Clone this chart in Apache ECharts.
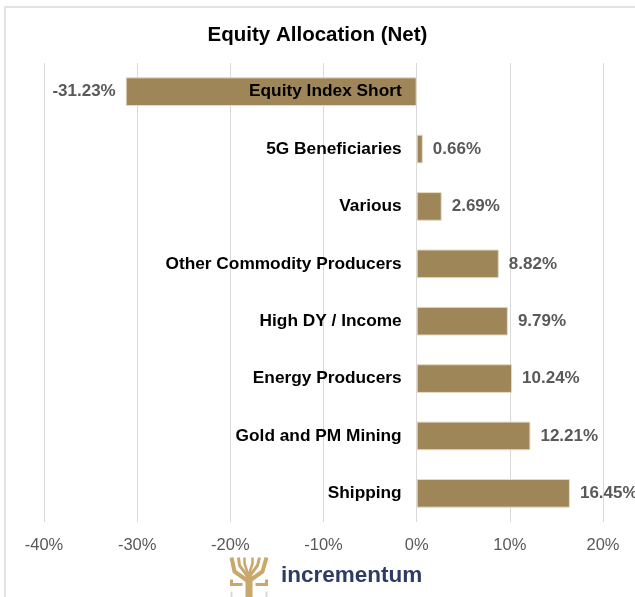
<!DOCTYPE html>
<html>
<head>
<meta charset="utf-8">
<script src="https://cdn.jsdelivr.net/npm/echarts@6/dist/echarts.min.js"></script>
<style>html,body{margin:0;padding:0;background:#fff}#c{width:635px;height:597px}</style>
</head>
<body>
<div id="c"></div>
<script>
var categories = ['Equity Index Short','5G Beneficiaries','Various','Other Commodity Producers','High DY / Income','Energy Producers','Gold and PM Mining','Shipping'];
var values = [-31.23, 0.66, 2.69, 8.82, 9.79, 10.24, 12.21, 16.45];
var xTicks = [-40, -30, -20, -10, 0, 10, 20];

var chart = echarts.init(document.getElementById('c'));
var font = '"Liberation Sans", Arial, sans-serif';
chart.setOption({
  animation: false,
  title: {
    text: 'Equity Allocation (Net)', left: 'center', top: 20,
    textStyle: {fontFamily: font, fontSize: 20.5, fontWeight: 'bold', color: '#000'}
  },
  grid: {left: 44, right: 32, top: 63, bottom: 75, containLabel: false, outerBoundsMode: 'none'},
  xAxis: {
    type: 'value', min: xTicks[0], max: xTicks[xTicks.length - 1], interval: 10,
    axisLine: {show: false}, axisTick: {show: false},
    splitLine: {lineStyle: {color: '#d9d9d9', width: 1}},
    axisLabel: {formatter: '{value}%', fontFamily: font, fontSize: 16.5, color: '#595959', margin: 15}
  },
  yAxis: {
    type: 'category', data: categories, inverse: true,
    axisLine: {show: false}, axisTick: {show: false}, axisLabel: {show: false}
  },
  series: [{
    type: 'bar', barCategoryGap: '50%',
    itemStyle: {color: '#9f8659', borderColor: '#e6dcc6', borderWidth: 1},
    label: {show: true, position: 'right', distance: 10, formatter: function(p){return p.value.toFixed(2) + '%';},
      fontFamily: font, fontSize: 17, fontWeight: 'bold', color: '#595959'},
    data: values.map(function(v){return v < 0 ? {value: v, label: {position: 'left', distance: 10}} : v;})
  }, {
    type: 'bar', barGap: '-100%', barCategoryGap: '50%', silent: true, z: 5,
    itemStyle: {color: 'rgba(0,0,0,0)', borderWidth: 0},
    label: {show: true, position: 'left', distance: 15, formatter: '{b}',
      fontFamily: font, fontSize: 17.3, fontWeight: 'bold', color: '#000'},
    data: categories.map(function(){return 0;})
  }],
  graphic: [
    {type: 'rect', shape: {x: 5, y: 7, width: 650, height: 620}, style: {fill: 'none', stroke: '#e3e3e3', lineWidth: 2}, silent: true},
    {type: 'group', left: 229, top: 555, children: [
      {type: 'rect', shape: {x: 15, y: 18, width: 7, height: 26}, style: {fill: '#c9a96b'}},
      {type: 'polyline', shape: {points: [[18,24],[4,14],[1,0]]}, style: {stroke: '#c9a96b', lineWidth: 4, fill: 'none'}},
      {type: 'polyline', shape: {points: [[18,24],[32,14],[36,0]]}, style: {stroke: '#c9a96b', lineWidth: 4, fill: 'none'}},
      {type: 'polyline', shape: {points: [[18,20],[9,8],[8,0]]}, style: {stroke: '#c9a96b', lineWidth: 3, fill: 'none'}},
      {type: 'polyline', shape: {points: [[18,20],[27,8],[29,0]]}, style: {stroke: '#c9a96b', lineWidth: 3, fill: 'none'}},
      {type: 'polyline', shape: {points: [[18,18],[14,6],[14,0]]}, style: {stroke: '#c9a96b', lineWidth: 2.5, fill: 'none'}},
      {type: 'polyline', shape: {points: [[18,18],[22,6],[22,0]]}, style: {stroke: '#c9a96b', lineWidth: 2.5, fill: 'none'}},
      {type: 'polyline', shape: {points: [[1,22],[1,27],[12,27]]}, style: {stroke: '#c9a96b', lineWidth: 3, fill: 'none'}},
      {type: 'polyline', shape: {points: [[25,27],[36,27],[36,22]]}, style: {stroke: '#c9a96b', lineWidth: 3, fill: 'none'}},
      {type: 'polyline', shape: {points: [[1,34],[1,42],[10,42]]}, style: {stroke: '#d9d9d9', lineWidth: 2, fill: 'none'}},
      {type: 'polyline', shape: {points: [[27,42],[36,42],[36,34]]}, style: {stroke: '#d9d9d9', lineWidth: 2, fill: 'none'}}
    ]},
    {type: 'text', left: 281, top: 564, style: {text: 'incrementum', fontFamily: font, fontSize: 22.5, fontWeight: 'bold', fill: '#2e3b63'}}
  ]
});
</script>
</body>
</html>
